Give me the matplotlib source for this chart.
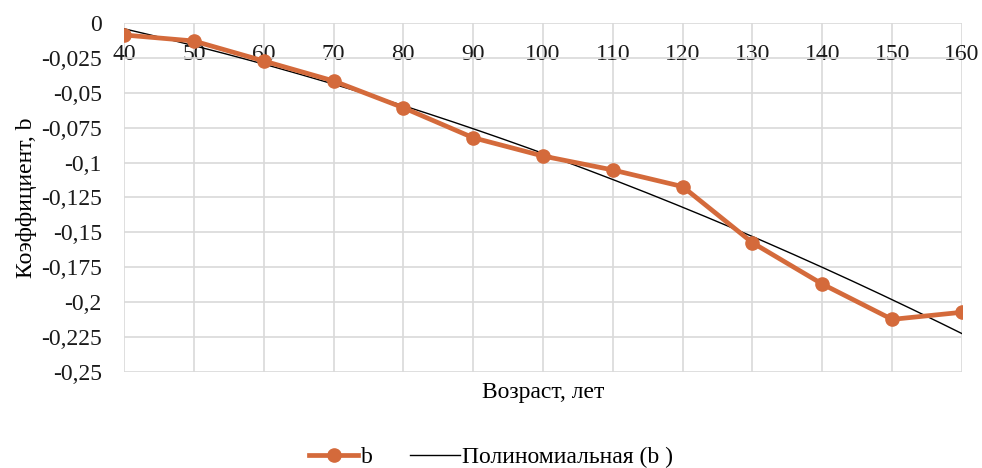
import numpy as np
import matplotlib
matplotlib.use("Agg")
import matplotlib.pyplot as plt
from matplotlib.ticker import FuncFormatter

ages = [40, 50, 60, 70, 80, 90, 100, 110, 120, 130, 140, 150, 160]
b_values = [-0.0086, -0.0129, -0.0272, -0.0415, -0.0607, -0.0822, -0.0953,
            -0.1053, -0.1172, -0.1574, -0.1870, -0.2123, -0.2072]
y_ticks = [0, -0.025, -0.05, -0.075, -0.1, -0.125, -0.15, -0.175, -0.2, -0.225, -0.25]

plt.rcParams['font.family'] = ['Liberation Serif', 'DejaVu Serif']

fig = plt.figure(figsize=(9.82, 4.68), dpi=100)
ax = fig.add_axes([0.1263, 0.2051, 0.8533, 0.7458])

orange = '#D46A3B'
grid_c = '#D9D9D9'

# polynomial trendline (order 2)
coef = np.polyfit(ages, b_values, 2)
xs = np.linspace(min(ages), max(ages), 200)
ax.plot(xs, np.polyval(coef, xs), color='black', lw=1.0, zorder=3,
        label='Полиномиальная (b )')
ax.plot(ages, b_values, color=orange, lw=3.4, marker='o', ms=9.5,
        zorder=4, label='b')

ax.set_xlim(40, 160)
ax.set_ylim(-0.25, 0)
ax.set_xticks(ages)
ax.set_yticks(y_ticks)

def fmt(v, pos):
    if abs(v) < 1e-12:
        return '0'
    s = ('%.3f' % v).rstrip('0').rstrip('.')
    return s.replace('.', ',')

ax.yaxis.set_major_formatter(FuncFormatter(fmt))
ax.grid(True, color=grid_c, lw=1.2)
ax.set_axisbelow(True)
for s in ax.spines.values():
    s.set_visible(False)
ax.spines['bottom'].set_position(('data', 0))
ax.tick_params(axis='both', length=0, labelsize=17, colors='#1a1a1a')
ax.tick_params(axis='x', pad=15)
ax.tick_params(axis='y', pad=16)

ax.set_xlabel('Возраст, лет', fontsize=17)
ax.xaxis.set_label_coords(0.5, -0.03)
ax.set_ylabel('Коэффициент, b', fontsize=17)
ax.yaxis.set_label_coords(-0.104, 0.5)

handles, labels = ax.get_legend_handles_labels()
fig.legend(handles[::-1], labels[::-1], loc='lower center', bbox_to_anchor=(0.5, -0.045),
           ncol=2, frameon=False, fontsize=17, handlelength=2.1, columnspacing=1.6,
           handletextpad=0.1)

fig.savefig('out.png', dpi=100)
